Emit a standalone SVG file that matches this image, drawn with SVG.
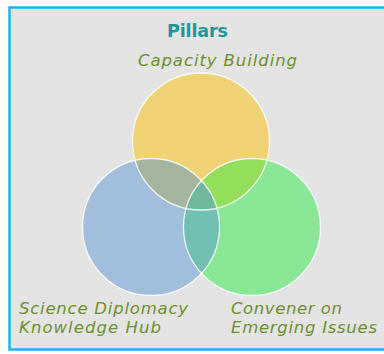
<svg xmlns="http://www.w3.org/2000/svg" width="384" height="354" viewBox="0 0 384 354">
<style>
.lbl{font-family:"DejaVu Sans","Liberation Sans",sans-serif;font-style:italic;font-size:16.5px;fill:#6e8f2c}
.ttl{font-family:"DejaVu Sans","Liberation Sans",sans-serif;font-weight:bold;font-size:17.5px;fill:#17999a}
.ol{fill:none;stroke:#ffffff;stroke-width:1.3;stroke-opacity:0.85}
</style>
<defs>
<clipPath id="cy"><circle cx="201" cy="141.5" r="68.5"/></clipPath>
<clipPath id="cg"><circle cx="252" cy="227" r="68.5"/></clipPath>
</defs>
<rect x="0" y="0" width="384" height="354" fill="#ffffff"/>
<rect x="9.5" y="7.5" width="390" height="342" fill="#e4e4e4" stroke="#1ab4ef" stroke-width="2.5"/>
<g id="capacity">
<circle cx="201" cy="141.5" r="68.5" fill="#f0d275"/>
</g>
<g id="convener">
<circle cx="252" cy="227" r="68.5" fill="#8ae795"/>
</g>
<g id="science">
<circle cx="151" cy="227" r="68.5" fill="#a1bfdc"/>
</g>
<g id="overlaps">
<circle cx="151" cy="227" r="68.5" fill="#a4b59f" clip-path="url(#cy)"/>
<circle cx="252" cy="227" r="68.5" fill="#93df5b" clip-path="url(#cy)"/>
<circle cx="151" cy="227" r="68.5" fill="#72c0b4" clip-path="url(#cg)"/>
<g clip-path="url(#cg)"><circle cx="151" cy="227" r="68.5" fill="#72b99b" clip-path="url(#cy)"/></g>
</g>
<g id="outlines">
<circle class="ol" cx="201" cy="141.5" r="68.5" stroke-opacity="0.4"/>
<circle class="ol" cx="252" cy="227" r="68.5"/>
<circle class="ol" cx="151" cy="227" r="68.5"/>
</g>
<g id="labels">
<text class="ttl" x="167" y="37" textLength="61">Pillars</text>
<text class="lbl" x="138" y="66" textLength="159">Capacity Building</text>
<text class="lbl" x="19" y="314" textLength="169">Science Diplomacy</text>
<text class="lbl" x="19" y="333" textLength="142">Knowledge Hub</text>
<text class="lbl" x="231" y="314" textLength="111">Convener on</text>
<text class="lbl" x="231" y="333" textLength="146">Emerging Issues</text>
</g>
</svg>
